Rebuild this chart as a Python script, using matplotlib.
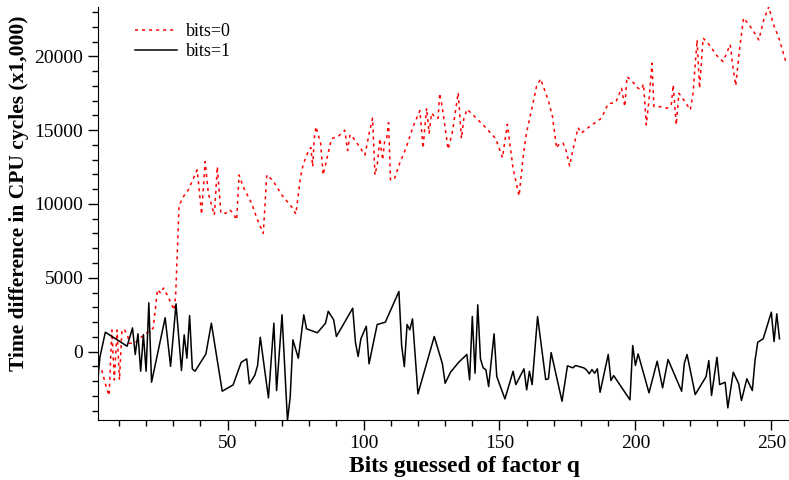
import numpy as np
import matplotlib
matplotlib.use("Agg")
import matplotlib.pyplot as plt
from matplotlib.ticker import MultipleLocator

plt.rcParams["font.family"] = ["Liberation Serif", "DejaVu Serif"]

# bits=1 series (black, solid)
x1 = [2, 3, 5, 13, 15, 16, 17, 18, 19, 20, 21, 22, 27, 29, 31, 33, 34, 35, 36, 37,
      38, 42, 44, 48, 52, 55, 57, 58, 60, 61, 62, 65, 67, 68, 70, 72, 73, 74, 76, 78,
      79, 83, 86, 87, 89, 90, 96, 97, 98, 99, 101, 102, 105, 108, 113, 114, 115, 116, 117, 118,
      120, 126, 129, 130, 132, 135, 138, 139, 140, 141, 142, 143, 144, 145, 146, 148, 149, 152, 155, 156,
      159, 160, 161, 162, 164, 167, 168, 169, 173, 175, 177, 178, 181, 182, 183, 184, 185, 186, 187, 190,
      191, 192, 198, 199, 200, 201, 205, 208, 210, 212, 217, 218, 219, 222, 226, 227, 228, 230, 231, 233,
      234, 236, 238, 239, 241, 243, 244, 245, 247, 250, 251, 252, 253]
y1 = [-2420, -385, 1310, 360, 1600, -200, 1200, -1335, 1150, -1335, 3300, -2080, 2285, -1000, 3230, -1290, 1130, -450, 2440, -1175,
      -1335, -160, 1920, -2690, -2260, -725, -500, -2190, -1600, -950, 970, -3140, 1920, -2645, 2490, -4680, -3100, 790, -450, 2490,
      1540, 1270, 1920, 2730, 2150, 1020, 2935, 630, -340, 860, 1715, -835, 1830, 1990, 4070, 410, -1020, 1830, 1470, 2215,
      -2870, 1020, -835, -2150, -1400, -725, -200, -1920, 2375, -1470, 3165, -500, -1105, -1240, -2375, 1200, -1700, -3210, -1335, -2240,
      -1175, -2600, -1335, -2240, 2375, -1900, -1850, -70, -3370, -970, -1105, -950, -1105, -1240, -1510, -1220, -1470, -1175, -2760, -200,
      -1970, -1630, -3275, 410, -950, -160, -2800, -655, -2460, -540, -2690, -790, -200, -2915, -1700, -610, -2980, -385, -2240, -2080,
      -3820, -1400, -2190, -3320, -1850, -2645, -610, 630, 860, 2665, 680, 2555, 860]

# bits=0 series (red, dotted)
x0 = [3.7, 5.5, 6.4, 7.4, 8.3, 9.3, 10.2, 11.1, 12.0, 13.3, 13.8, 15.7, 17.1, 18.4, 20.0, 21.6, 22.6, 24.2, 25.4, 26.4,
      27.9, 29.2, 30.3, 30.9, 32.1, 33.3, 35.5, 38.0, 38.8, 40.4, 41.7, 42.9, 45.1, 46.2, 47.5, 49.3, 50.8, 51.8, 53.3, 54.2,
      55.7, 58.8, 60.9, 61.9, 63.1, 64.4, 66.6, 69.9, 73.5, 75.1, 76.8, 77.6, 78.4, 79.6, 80.6, 81.3, 81.8, 82.5, 83.3, 84.2,
      85.1, 86.4, 88.2, 90.7, 93.1, 94.1, 95.0, 96.2, 97.6, 100.5, 102.3, 103.3, 104.2, 105.1, 106.0, 107.0, 107.8, 108.5, 109.2, 109.9,
      111.3, 113.3, 115.8, 118.2, 120.7, 121.9, 122.5, 123.2, 124.1, 125.0, 126.6, 127.4, 128.0, 128.7, 129.6, 131.1, 132.7, 134.8, 136.0, 136.9,
      138.1, 140.3, 144.6, 148.6, 151.1, 152.9, 155.0, 157.2, 158.7, 159.9, 161.8, 163.6, 165.1, 167.9, 169.5, 171.0, 171.9, 173.4, 174.6, 175.8,
      177.0, 178.9, 180.1, 182.6, 187.5, 189.9, 192.8, 194.9, 196.1, 196.9, 198.9, 201.0, 202.2, 203.0, 204.0, 205.0, 206.1, 206.8, 208.7, 211.6,
      213.2, 213.9, 215.0, 216.0, 217.8, 220.2, 221.2, 222.7, 223.6, 224.9, 226.7, 230.4, 232.2, 234.9, 235.9, 236.9, 238.3, 239.8, 242.0, 243.8,
      245.4, 247.2, 249.1, 250.6, 252.8, 255.3]
y0 = [-1260, -2530, -2980, 1460, -1930, 1460, -1930, 1460, 1500, 1000, 560, 560, 780, 1000, 1230, 1450, 1570, 4200, 3950, 4300,
      3780, 3270, 2810, 3950, 9820, 10390, 10950, 11970, 12310, 9300, 12870, 10700, 9250, 12530, 9370, 9370, 9600, 9420, 8920, 11970,
      11170, 10050, 8960, 8530, 8010, 11970, 11600, 10610, 9820, 9320, 11850, 12530, 12980, 13550, 13820, 12530, 14380, 15240, 14680, 14120,
      11970, 12980, 14430, 14580, 15000, 13620, 14700, 14480, 14120, 13320, 15000, 15810, 11970, 12760, 14430, 12980, 14340, 14480, 15510, 11630,
      11670, 12760, 13890, 15240, 16330, 13780, 15130, 16490, 14800, 16160, 15810, 15810, 17500, 16820, 15690, 13710, 14900, 17540, 14430, 15810,
      16420, 16030, 15240, 14430, 13140, 15400, 12400, 10550, 13170, 14800, 16380, 17960, 18480, 17050, 15920, 13780, 14070, 14120, 13550, 12580,
      13660, 15170, 14800, 15170, 15810, 16780, 16890, 17840, 16600, 18630, 18290, 17840, 17770, 18130, 15360, 17050, 19540, 16600, 16600, 16490,
      16710, 18070, 15360, 17500, 17050, 16380, 17500, 21120, 17840, 21240, 20900, 19950, 19660, 20800, 19220, 18020, 20460, 22610, 22090, 21600,
      21120, 22480, 23380, 22250, 21240, 19660]

fig = plt.figure(figsize=(7.89, 4.8), dpi=100)
ax = fig.add_axes([98 / 789, 60 / 480, 691 / 789, 413 / 480])

ax.plot(x0, y0, color="red", lw=1.1, linestyle=(0, (2.0, 2.6)), label="bits=0")
ax.plot(x1, y1, color="black", lw=1.1, label="bits=1")

ax.set_xlim(2.3, 256.5)
ax.set_ylim(-4640, 23350)
ax.xaxis.set_major_locator(MultipleLocator(50))
ax.xaxis.set_minor_locator(MultipleLocator(10))
ax.yaxis.set_major_locator(MultipleLocator(5000))
ax.yaxis.set_minor_locator(MultipleLocator(1000))
ax.tick_params(which="major", direction="out", length=7, width=1, labelsize=14)
ax.tick_params(which="minor", direction="out", length=4, width=1)
for s in ["top", "right"]:
    ax.spines[s].set_visible(False)

ax.set_xlabel("Bits guessed of factor q", fontsize=16.8, fontweight="bold")
ax.set_ylabel("Time difference in CPU cycles (x1,000)", fontsize=15.5, fontweight="bold")
ax.xaxis.set_label_coords(0.531, -0.088)
ax.yaxis.set_label_coords(-0.1, 0.55)

ax.legend(loc="upper left", bbox_to_anchor=(0.03, 1.0), frameon=False,
          fontsize=13, handlelength=2.3, handletextpad=0.5, labelspacing=0.15)

fig.savefig("out.png", dpi=100)
